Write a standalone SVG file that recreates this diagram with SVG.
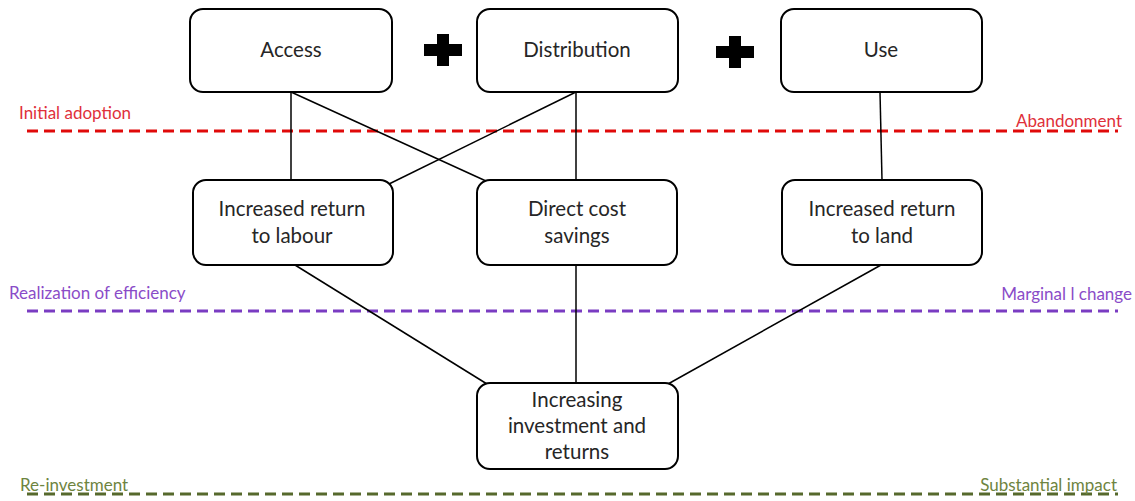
<svg xmlns="http://www.w3.org/2000/svg" width="1135" height="501" viewBox="0 0 1135 501">
  <style>
    .box { fill: #ffffff; stroke: #000000; stroke-width: 2; }
    .lbl { font-family: Lato, "Liberation Sans", sans-serif; font-size: 20.5px; fill: #262626; text-anchor: middle; }
    .conn { stroke: #000000; stroke-width: 1.5; fill: none; }
    .stage { font-family: Lato, "Liberation Sans", sans-serif; font-size: 17px; }
    .dash { fill: none; stroke-width: 3; stroke-dasharray: 11 6; }
    .plus { fill: #000000; }
  </style>
  <rect width="1135" height="501" fill="#ffffff"/>

  <!-- stage boundaries -->
  <g id="stages">
    <line class="dash" x1="27" y1="131" x2="1118" y2="131" stroke="#e00a0a"/>
    <text class="stage" x="19" y="119" fill="#e0303a">Initial adoption</text>
    <text class="stage" x="1122" y="127" fill="#e0303a" text-anchor="end">Abandonment</text>

    <line class="dash" x1="27" y1="311" x2="1118" y2="311" stroke="#7a3cc2"/>
    <text class="stage" x="9" y="299" fill="#8a4cc8">Realization of efficiency</text>
    <text class="stage" x="1132" y="300" fill="#8a4cc8" text-anchor="end">Marginal l change</text>

    <line class="dash" x1="27" y1="494" x2="1118" y2="494" stroke="#56692c" stroke-width="4"/>
    <text class="stage" x="20" y="491" fill="#6e8440">Re-investment</text>
    <text class="stage" x="1117" y="491" fill="#6e8440" text-anchor="end">Substantial impact</text>
  </g>

  <!-- connectors -->
  <g id="connectors">
    <line class="conn" x1="291" y1="92" x2="291" y2="180"/>
    <line class="conn" x1="291" y1="92" x2="486" y2="181"/>
    <line class="conn" x1="576" y1="92" x2="389" y2="184"/>
    <line class="conn" x1="576" y1="92" x2="576" y2="180"/>
    <line class="conn" x1="880" y1="92" x2="882" y2="180"/>
    <line class="conn" x1="295" y1="265" x2="487" y2="384"/>
    <line class="conn" x1="576" y1="265" x2="576" y2="383"/>
    <line class="conn" x1="881" y1="265" x2="668" y2="384"/>
  </g>

  <!-- plus signs -->
  <g id="plus1">
    <path class="plus" d="M437,34 h12 v10 h13 v12 h-13 v10 h-12 v-10 h-13 v-12 h13 z"/>
  </g>
  <g id="plus2">
    <path class="plus" d="M729,36 h12 v10 h13 v12 h-13 v10 h-12 v-10 h-13 v-12 h13 z"/>
  </g>

  <g id="access">
    <rect class="box" x="190" y="9" width="202" height="83" rx="13"/>
    <text class="lbl" x="291" y="57">Access</text>
  </g>
  <g id="distribution">
    <rect class="box" x="477" y="9" width="201" height="83" rx="13"/>
    <text class="lbl" x="577" y="57">Distribution</text>
  </g>
  <g id="use">
    <rect class="box" x="781" y="9" width="201" height="83" rx="13"/>
    <text class="lbl" x="881" y="57">Use</text>
  </g>

  <g id="return-labour">
    <rect class="box" x="193" y="180" width="200" height="85" rx="13"/>
    <text class="lbl" x="292" y="216">Increased return</text>
    <text class="lbl" x="292" y="243">to labour</text>
  </g>
  <g id="cost-savings">
    <rect class="box" x="477" y="180" width="200" height="85" rx="13"/>
    <text class="lbl" x="577" y="216">Direct cost</text>
    <text class="lbl" x="577" y="243">savings</text>
  </g>
  <g id="return-land">
    <rect class="box" x="782" y="180" width="200" height="85" rx="13"/>
    <text class="lbl" x="882" y="216">Increased return</text>
    <text class="lbl" x="882" y="243">to land</text>
  </g>

  <g id="investment">
    <rect class="box" x="477" y="383" width="201" height="86" rx="13"/>
    <text class="lbl" x="577" y="407">Increasing</text>
    <text class="lbl" x="577" y="433">investment and</text>
    <text class="lbl" x="577" y="459">returns</text>
  </g>
</svg>
